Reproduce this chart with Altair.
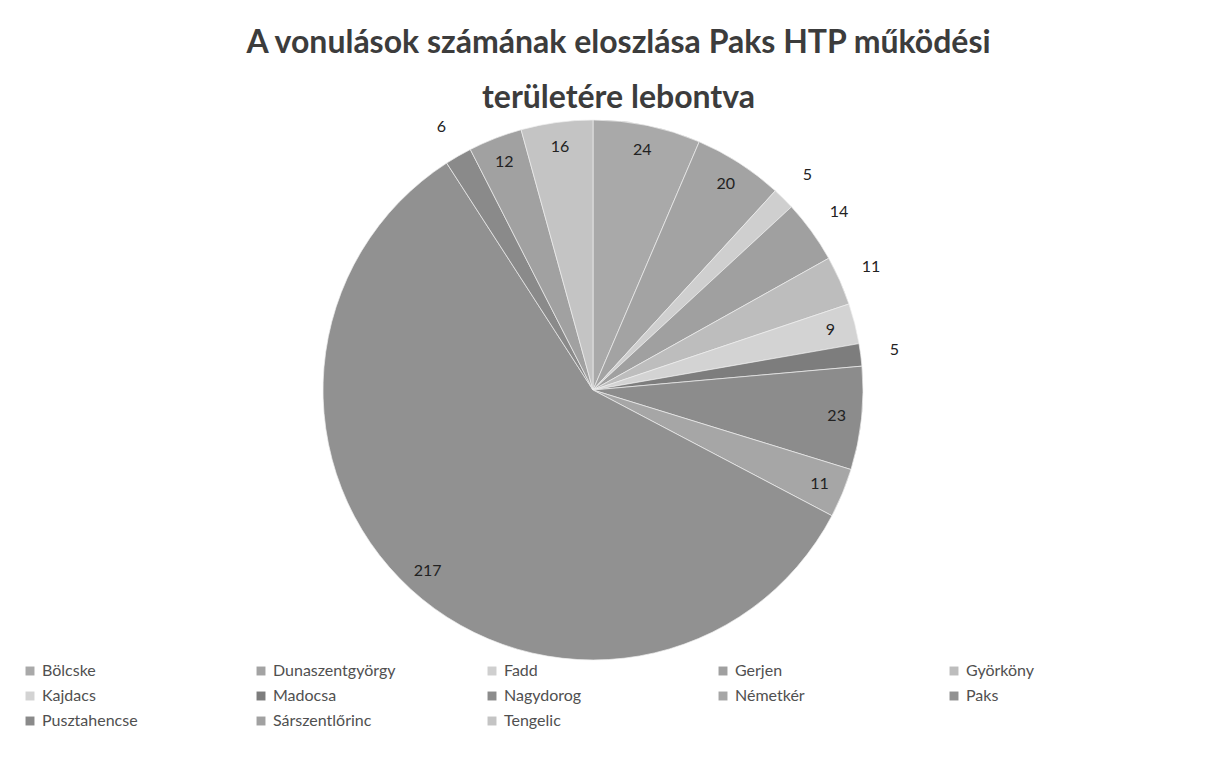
import altair as alt
import pandas as pd

# ---- data ----
categories = ["Bölcske", "Dunaszentgyörgy", "Fadd", "Gerjen", "Györköny",
              "Kajdacs", "Madocsa", "Nagydorog", "Németkér", "Paks",
              "Pusztahencse", "Sárszentlőrinc", "Tengelic"]
values = [24, 20, 5, 14, 11, 9, 5, 23, 11, 217, 6, 12, 16]
colors = ["#a9a9a9", "#a3a3a3", "#cfcfcf", "#a0a0a0", "#bdbdbd",
          "#d3d3d3", "#7d7d7d", "#8c8c8c", "#a6a6a6", "#919191",
          "#8a8a8a", "#a1a1a1", "#c4c4c4"]
# slices whose value label sits outside the pie
outside_names = ["Fadd", "Gerjen", "Györköny", "Madocsa", "Pusztahencse"]

title_lines = ["A vonulások számának eloszlása Paks HTP működési",
               "területére lebontva"]

df = pd.DataFrame({"name": categories, "value": values,
                   "idx": list(range(len(categories)))})
df["lab_in"] = [("" if n in outside_names else str(v)) for n, v in zip(categories, values)]
df["lab_out"] = [(str(v) if n in outside_names else "") for n, v in zip(categories, values)]

CX, CY, R = 585, 217, 270

base = alt.Chart(df).encode(
    theta=alt.Theta("value:Q", stack=True),
    order=alt.Order("idx:Q"),
    x=alt.value(CX),
    y=alt.value(CY),
)

arcs = base.mark_arc(outerRadius=R, stroke="#eeeeee", strokeWidth=0.7).encode(
    color=alt.Color(
        "name:N",
        scale=alt.Scale(domain=categories, range=colors),
        sort=categories,
        legend=alt.Legend(
            title=None, orient="none", legendX=14, legendY=490,
            direction="horizontal",
            columns=5, gridAlign="all", columnPadding=88, rowPadding=9,
            symbolType="square", symbolSize=80, symbolStrokeWidth=0,
            labelFont="Lato", labelFontSize=16, labelColor="#505050",
            labelOffset=4, labelLimit=300,
        ),
    )
)

inside_txt = base.mark_text(radius=245, font="Lato", fontSize=16,
                            color="#222222").encode(text="lab_in:N")
outside_txt = base.mark_text(radius=304, font="Lato", fontSize=16,
                             color="#222222").encode(text="lab_out:N")

chart = alt.layer(arcs, inside_txt, outside_txt).properties(
    width=1201, height=601,
    autosize=alt.AutoSizeParams(type="none"),
    padding={"top": 165, "left": 0, "right": 0, "bottom": 0},
    title=alt.Title(title_lines, font="Lato", fontSize=32, fontWeight="bold",
                    color="#3c3c3c", anchor="middle", lineHeight=55,
                    offset=-34, dx=10),
    background="white",
).configure_view(stroke=None)

chart.save("out.html", embed_options={"renderer": "svg", "actions": False})
